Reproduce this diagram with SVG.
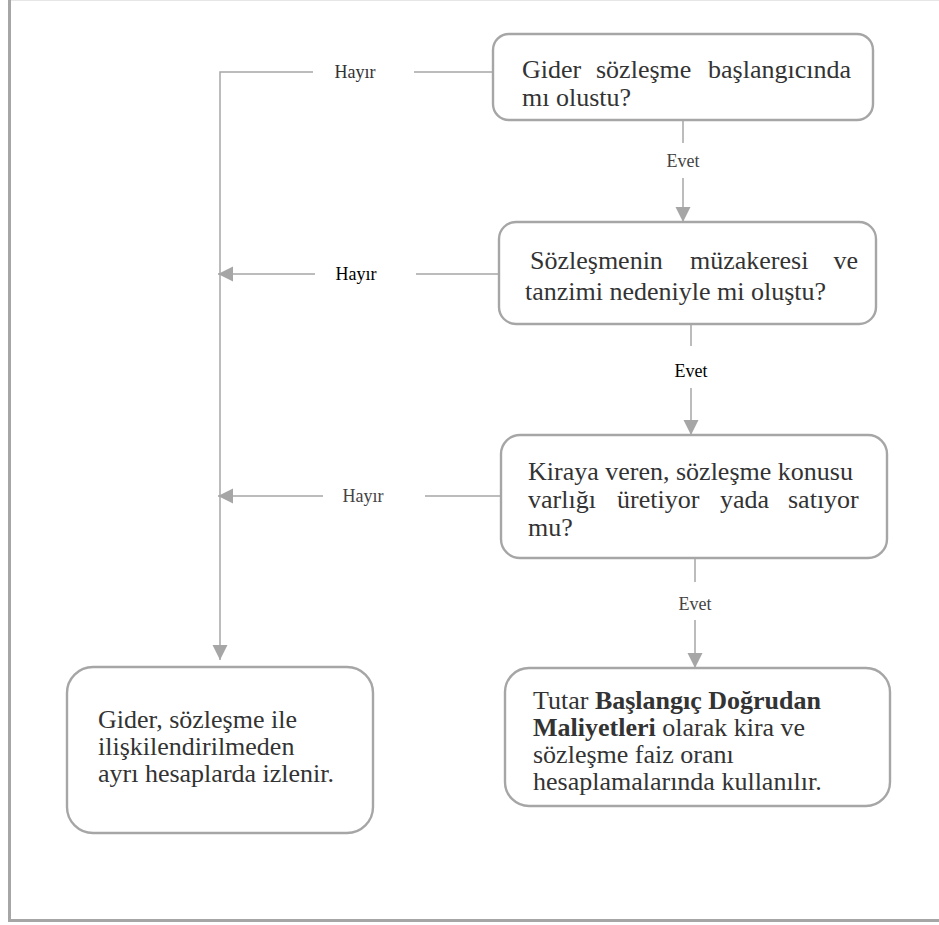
<svg xmlns="http://www.w3.org/2000/svg" width="939" height="925" viewBox="0 0 939 925">
<style>
.box{fill:#fff;stroke:#a6a6a6;stroke-width:2.4}
.t{font-family:"Liberation Serif","Times New Roman","DejaVu Serif",serif;font-size:26px;fill:#333}
.b{font-weight:bold}
.lbl{font-family:"Liberation Serif","Times New Roman","DejaVu Serif",serif;font-size:18px;fill:#333;text-anchor:middle}
.dk{fill:#000}
.gr{fill:#444}
.ln{fill:none;stroke:#a6a6a6;stroke-width:1.5}
.frame{fill:none;stroke:#a6a6a6;stroke-width:3}
</style>
<defs>
<marker id="ah" markerUnits="userSpaceOnUse" markerWidth="16" markerHeight="16" refX="15" refY="7.5" orient="auto">
<path d="M0,0 L15,7.5 L0,15 Z" fill="#a6a6a6"/>
</marker>
</defs>
<rect x="0" y="0" width="939" height="925" fill="#fff"/>
<line x1="9" y1="0.5" x2="939" y2="0.5" stroke="#e6e6e6" stroke-width="1"/>
<line class="frame" x1="9.5" y1="0" x2="9.5" y2="921"/>
<line class="frame" x1="8" y1="920.5" x2="939" y2="920.5"/>

<g id="connectors">
<line class="ln" x1="493" y1="72" x2="414" y2="72"/>
<polyline class="ln" points="313,72 220,72 220,660" marker-end="url(#ah)"/>
<text class="lbl" x="355" y="78">Hayır</text>

<line class="ln" x1="499" y1="274" x2="416" y2="274"/>
<line class="ln" x1="315" y1="274" x2="218" y2="274" marker-end="url(#ah)"/>
<text class="lbl dk" x="356" y="280">Hayır</text>

<line class="ln" x1="500" y1="496" x2="425" y2="496"/>
<line class="ln" x1="323" y1="496" x2="218" y2="496" marker-end="url(#ah)"/>
<text class="lbl gr" x="363" y="502">Hayır</text>

<line class="ln" x1="683" y1="120" x2="683" y2="143"/>
<line class="ln" x1="683" y1="178" x2="683" y2="222" marker-end="url(#ah)"/>
<text class="lbl gr" x="683" y="167">Evet</text>

<line class="ln" x1="691" y1="324" x2="691" y2="346"/>
<line class="ln" x1="691" y1="388" x2="691" y2="435" marker-end="url(#ah)"/>
<text class="lbl dk" x="691" y="377">Evet</text>

<line class="ln" x1="695" y1="558" x2="695" y2="582"/>
<line class="ln" x1="695" y1="620" x2="695" y2="668" marker-end="url(#ah)"/>
<text class="lbl gr" x="695" y="610">Evet</text>
</g>

<g id="n1">
<rect class="box" x="493" y="34" width="380" height="86" rx="16"/>
<text class="t" y="78"><tspan x="522">Gider</tspan><tspan x="596">sözleşme</tspan><tspan x="708">başlangıcında</tspan></text>
<text class="t" x="522" y="106">mı olustu?</text>
</g>

<g id="n2">
<rect class="box" x="499" y="222" width="377" height="102" rx="17"/>
<text class="t" y="269"><tspan x="530">Sözleşmenin</tspan><tspan x="690">müzakeresi</tspan><tspan x="833.5">ve</tspan></text>
<text class="t" x="525" y="300">tanzimi nedeniyle mi oluştu?</text>
</g>

<g id="n3">
<rect class="box" x="501" y="435" width="386" height="123" rx="19"/>
<text class="t" x="528" y="480">Kiraya veren, sözleşme konusu</text>
<text class="t" y="508"><tspan x="528">varlığı</tspan><tspan x="617">üretiyor</tspan><tspan x="720">yada</tspan><tspan x="788">satıyor</tspan></text>
<text class="t" x="528" y="536">mu?</text>
</g>

<g id="n4">
<rect class="box" x="505" y="668" width="385" height="138" rx="24"/>
<text class="t" x="533" y="709">Tutar <tspan class="b">Başlangıç Doğrudan</tspan></text>
<text class="t" x="533" y="736"><tspan class="b">Maliyetleri</tspan> olarak kira ve</text>
<text class="t" x="533" y="763">sözleşme faiz oranı</text>
<text class="t" x="533" y="790">hesaplamalarında kullanılır.</text>
</g>

<g id="n5">
<rect class="box" x="67" y="667" width="306" height="166" rx="26"/>
<text class="t" x="98" y="728">Gider, sözleşme ile</text>
<text class="t" x="98" y="755">ilişkilendirilmeden</text>
<text class="t" x="98" y="782">ayrı hesaplarda izlenir.</text>
</g>
</svg>
